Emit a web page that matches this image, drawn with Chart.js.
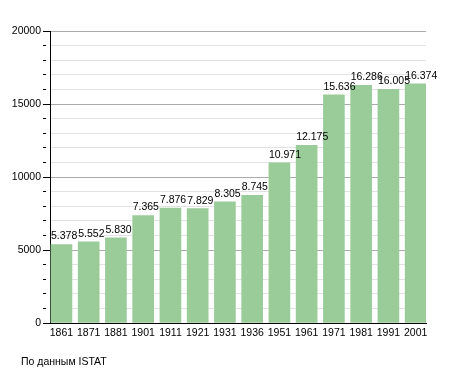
<!DOCTYPE html>
<html>
<head>
<meta charset="utf-8">
<script src="https://cdn.jsdelivr.net/npm/chart.js@4/dist/chart.umd.min.js"></script>
<style>
  html, body { margin: 0; padding: 0; background: #fff; }
  #wrap { position: relative; width: 455px; height: 373px; }
  #source {
    position: absolute; left: 21px; top: 355px;
    font: 10.5px "Liberation Sans", Arial, sans-serif; line-height: 12px; color: #000;
  }
</style>
</head>
<body>
<div id="wrap">
  <canvas id="chart" width="455" height="373"></canvas>
  <div id="source">По данным ISTAT</div>
</div>
<script>
// census years and resident population
const YEARS = ['1861', '1871', '1881', '1901', '1911', '1921', '1931', '1936', '1951', '1961', '1971', '1981', '1991', '2001'];
const POPULATION = [5378, 5552, 5830, 7365, 7876, 7829, 8305, 8745, 10971, 12175, 15636, 16286, 16005, 16374];
const Y_MAX = 20000;

const FONT = '"Liberation Sans", Arial, sans-serif';

// thousands with a dot, as in the original
const fmt = v => String(v).replace(/\B(?=(\d{3})+(?!\d))/g, '.');

// value labels, left-aligned on each bar
const barLabels = {
  id: 'barLabels',
  afterDatasetsDraw(chart) {
    const { ctx } = chart;
    const meta = chart.getDatasetMeta(0);
    ctx.save();
    ctx.font = '10.5px ' + FONT;
    ctx.fillStyle = '#000';
    ctx.textAlign = 'left';
    ctx.textBaseline = 'alphabetic';
    meta.data.forEach((bar, i) => {
      const { x, y, width } = bar.getProps(['x', 'y', 'width'], true);
      ctx.fillText(fmt(POPULATION[i]), x - width / 2, y - 5);
    });
    ctx.restore();
  },
};

new Chart(document.getElementById('chart'), {
  type: 'bar',
  data: {
    datasets: [{
      data: POPULATION.map((v, i) => ({ x: i, y: v })),
      backgroundColor: '#99cc99',
      borderWidth: 0,
      barThickness: 21,
    }],
  },
  options: {
    responsive: false,
    animation: false,
    layout: { padding: { top: 31, right: 29, left: 0, bottom: 0 } },
    scales: {
      x: {
        type: 'linear',
        offset: false,
        min: -0.42,
        max: 13.38,
        afterBuildTicks: scale => { scale.ticks = YEARS.map((_, i) => ({ value: i })); },
        afterFit: scale => { scale.height = 50; },
        grid: { display: true, offset: false, drawOnChartArea: false, drawTicks: false },
        border: { display: true, color: '#000', width: 1 },
        ticks: {
          autoSkip: false,
          maxRotation: 0,
          padding: 4,
          color: '#000',
          font: { family: FONT, size: 10.5 },
          callback: v => YEARS[v] ?? '',
        },
      },
      y: {
        min: 0,
        max: Y_MAX,
        afterFit: scale => { scale.width = 50; },
        grid: {
          color: c => (c.tick.value % 5000 === 0 ? '#aaaaaa' : '#e2e2e2'),
          tickColor: '#000',
          tickLength: 7,
          tickBorderDash: c => (c.tick && c.tick.value % 5000 === 0 ? [] : [3, 40]),
        },
        border: { display: true, color: '#000', width: 1 },
        ticks: {
          stepSize: 1000,
          maxTicksLimit: 30,
          autoSkip: false,
          padding: 2,
          color: '#000',
          font: { family: FONT, size: 10.5 },
          callback: v => (v % 5000 === 0 ? String(v) : ''),
        },
      },
    },
    plugins: {
      legend: { display: false },
      tooltip: { enabled: false },
    },
  },
  plugins: [barLabels],
});
</script>
</body>
</html>
